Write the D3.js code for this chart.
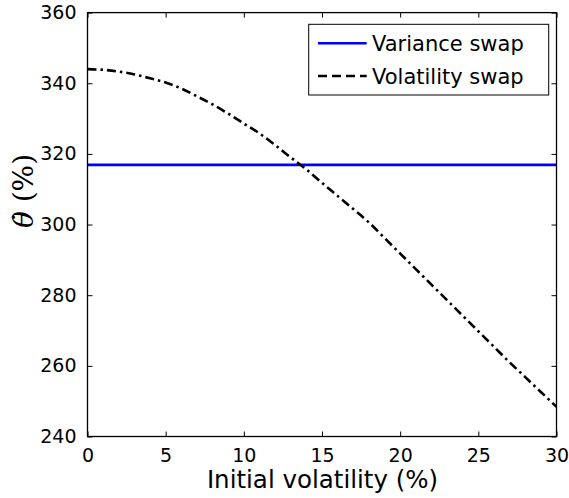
<!DOCTYPE html>
<html><head><meta charset="utf-8">
<script src="https://cdn.jsdelivr.net/npm/d3@7"></script>
<style>body{margin:0;background:#fff;} svg{display:block;}</style>
</head><body>
<svg id="c" width="569" height="498"></svg>
<script>
const vols = [0,1,2,3,4,5,6,7,8,9,10,11,12,13,14,15,16,17,18,19,20,21,22,23,24,25,26,27,28,29,30];
const volSwap = [344.0,343.8,343.3,342.5,341.4,340.2,338.5,336.3,334.0,331.4,328.6,325.8,322.5,319.0,315.6,311.8,308.1,304.4,300.6,296.2,291.8,287.4,283.0,278.6,274.2,269.8,265.4,261.0,256.8,252.6,248.4];
const varSwapValue = 316.9;
const varSwap = vols.map(() => varSwapValue);
const xTicks = [0,5,10,15,20,25,30];
const yTicks = [240,260,280,300,320,340,360];
const seriesNames = ["Variance swap","Volatility swap"];

const svg = d3.select("#c");
const L = 87.5, R = 556.5, T = 12.6, B = 436.5;
const x = d3.scaleLinear().domain([0,30]).range([L,R]);
const y = d3.scaleLinear().domain([240,360]).range([B,T]);
const font = "DejaVu Sans, sans-serif";

svg.append("defs").append("clipPath").attr("id","clip")
  .append("rect").attr("x",L).attr("y",T).attr("width",R-L).attr("height",B-T);

const line = d3.line().x((d,i)=>x(vols[i])).y(d=>y(d));
const g = svg.append("g").attr("clip-path","url(#clip)");
g.append("path").datum(varSwap).attr("d",line)
  .attr("fill","none").attr("stroke","#0000ff").attr("stroke-width",2.6);
g.append("path").datum(volSwap).attr("d",d3.line().curve(d3.curveMonotoneX).x((d,i)=>x(vols[i])).y(d=>y(d)))
  .attr("fill","none").attr("stroke","#000").attr("stroke-width",2.6)
  .attr("stroke-dasharray","9,4,2.5,4");

const tl = 5;
const axB = svg.append("g").attr("transform",`translate(0,${B})`)
  .call(d3.axisBottom(x).tickValues(xTicks).tickSizeInner(-tl).tickSizeOuter(0).tickPadding(14));
const axT = svg.append("g").attr("transform",`translate(0,${T})`)
  .call(d3.axisTop(x).tickValues(xTicks).tickSizeInner(-tl).tickSizeOuter(0).tickFormat(""));
const axL = svg.append("g").attr("transform",`translate(${L},0)`)
  .call(d3.axisLeft(y).tickValues(yTicks).tickSizeInner(-tl).tickSizeOuter(0).tickPadding(11));
const axR = svg.append("g").attr("transform",`translate(${R},0)`)
  .call(d3.axisRight(y).tickValues(yTicks).tickSizeInner(-tl).tickSizeOuter(0).tickFormat(""));
[axB,axT,axL,axR].forEach(a=>{
  a.selectAll(".domain").remove();
  a.selectAll(".tick line").attr("stroke","#000").attr("stroke-width",1);
  a.selectAll("text").attr("font-family",font).attr("font-size","19px").attr("fill","#000");
});
axB.selectAll("text").attr("dy","0.35em").attr("y",19);
svg.append("rect").attr("x",L).attr("y",T).attr("width",R-L).attr("height",B-T)
  .attr("fill","none").attr("stroke","#000").attr("stroke-width",1.3);

svg.append("text").attr("x",(207+438)/2).attr("y",488).attr("text-anchor","middle")
  .attr("font-family",font).attr("font-size","24.5px").text("Initial volatility (%)");
const yl = svg.append("text").attr("transform","translate(33,191) rotate(-90)")
  .attr("text-anchor","middle").attr("font-family","DejaVu Serif, serif").attr("font-size","28px");
yl.append("tspan").attr("font-style","italic").text("θ\u0307");
yl.append("tspan").text(" (%)");

const lg = svg.append("g");
lg.append("rect").attr("x",308.7).attr("y",24.3).attr("width",240).attr("height",70.7)
  .attr("fill","#fff").attr("stroke","#000").attr("stroke-width",1);
const legY = [43.3,76];
const legStyle = [{c:"#0000ff",d:null},{c:"#000",d:"9,5"}];
seriesNames.forEach((n,i)=>{
  lg.append("line").attr("x1",318).attr("x2",366.7).attr("y1",legY[i]).attr("y2",legY[i])
    .attr("stroke",legStyle[i].c).attr("stroke-width",2.6).attr("stroke-dasharray",legStyle[i].d);
  lg.append("text").attr("x",372).attr("y",legY[i]).attr("dy","0.36em")
    .attr("font-family",font).attr("font-size","21px").text(n);
});
</script>
</body></html>
